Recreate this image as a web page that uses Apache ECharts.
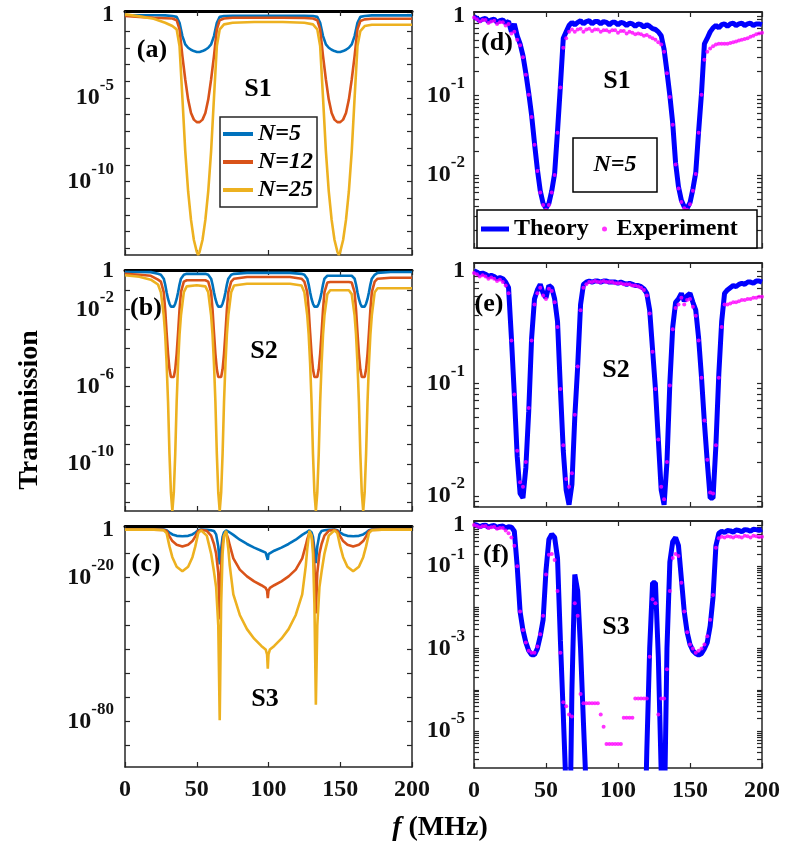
<!DOCTYPE html>
<html>
<head>
	<meta charset="UTF-8">
	<title>Transmission S1 S2 S3</title>
	<script src="https://cdn.jsdelivr.net/npm/echarts@6/dist/echarts.min.js"></script>
	<style>
		html,body{margin:0;padding:0;background:#fff;}
		#chart{width:788px;height:866px;}
	</style>
</head>
<body>
	<div id="chart"></div>
	<script type="text/javascript">
		// 所有纵坐标数据均为 log10(Transmission)
		// (a) S1, 左列
		var fA = [0,10,20,28, 33,36,38,40,42,44,46,48,50,51,52,54,56,58,60,62,64,66,69, 75,90,110,125,
			131,134,136,138,140,142,144,146,148,149,150,152,154,156,158,160,162,164,167, 172,185,200];
		var aN5 = [-0.05,-0.05,-0.05,-0.06,
			-0.1,-0.15,-0.5,-1.3,-1.8,-2.0,-2.12,-2.2,-2.25,-2.25,-2.25,-2.2,-2.12,-2.0,-1.8,-1.3,-0.5,-0.15,-0.1,
			-0.08,-0.08,-0.08,-0.08,
			-0.1,-0.15,-0.5,-1.3,-1.8,-2.0,-2.12,-2.2,-2.25,-2.25,-2.25,-2.2,-2.12,-2.0,-1.8,-1.3,-0.5,-0.15,-0.1,
			-0.06,-0.06,-0.06];
		var aN12 = [-0.1,-0.15,-0.2,-0.23,
			-0.25,-0.35,-0.9,-2.5,-3.9,-5.1,-5.9,-6.3,-6.45,-6.47,-6.45,-6.3,-5.9,-5.1,-3.9,-2.5,-0.9,-0.35,-0.25,
			-0.2,-0.2,-0.2,-0.22,
			-0.25,-0.35,-0.9,-2.5,-3.9,-5.1,-5.9,-6.3,-6.45,-6.47,-6.45,-6.3,-5.9,-5.1,-3.9,-2.5,-0.9,-0.4,-0.3,
			-0.26,-0.26,-0.26];
		var aN25 = [0,-0.12,-0.26,-0.5,
			-0.7,-0.9,-1.9,-5.0,-8.2,-10.6,-12.3,-13.5,-14.2,-14.4,-14.2,-13.5,-12.3,-10.6,-8.2,-5.0,-1.9,-0.9,-0.6,
			-0.5,-0.46,-0.46,-0.5,
			-0.6,-0.9,-1.9,-5.0,-8.2,-10.6,-12.3,-13.5,-14.2,-14.4,-14.2,-13.5,-12.3,-10.6,-8.2,-5.0,-1.9,-1.0,-0.7,
			-0.62,-0.62,-0.62];

		// (b) S2
		var fB = [0,10,18, 23,25,27,28,29,30,31,32,33,34,35,36,37,38,39,41,43, 50,
			56,58,60,61,62,63,64,65,66,67,68,69,70,71,72,74,76, 85,100,115,
			123,125,127,128,129,130,131,132,133,134,135,136,137,138,139,141,143, 150,
			156,158,160,161,162,163,164,165,166,167,168,169,170,171,172,174,176, 185,200];
		var bN5 = [-0.05,-0.05,-0.06,
			-0.15,-0.2,-0.4,-0.7,-1.1,-1.45,-1.7,-1.85,-1.9,-1.85,-1.7,-1.45,-1.1,-0.7,-0.4,-0.2,-0.15,
			-0.15,
			-0.15,-0.2,-0.4,-0.7,-1.1,-1.45,-1.7,-1.85,-1.9,-1.85,-1.7,-1.45,-1.1,-0.7,-0.4,-0.2,-0.15,
			-0.1,-0.1,-0.1,
			-0.15,-0.2,-0.4,-0.7,-1.1,-1.45,-1.7,-1.85,-1.9,-1.85,-1.7,-1.45,-1.1,-0.7,-0.4,-0.25,-0.25,
			-0.25,
			-0.25,-0.25,-0.4,-0.7,-1.1,-1.45,-1.7,-1.85,-1.9,-1.85,-1.7,-1.45,-1.1,-0.7,-0.4,-0.2,-0.1,
			-0.05,-0.05];
		var bN12 = [-0.15,-0.2,-0.25,
			-0.45,-0.55,-1.1,-2.0,-3.2,-4.3,-5.1,-5.5,-5.6,-5.5,-5.1,-4.3,-3.2,-2.0,-1.1,-0.55,-0.48,
			-0.48,
			-0.48,-0.55,-1.1,-2.0,-3.2,-4.3,-5.1,-5.5,-5.6,-5.5,-5.1,-4.3,-3.2,-2.0,-1.1,-0.55,-0.4,
			-0.31,-0.31,-0.31,
			-0.4,-0.55,-1.1,-2.0,-3.2,-4.3,-5.1,-5.5,-5.6,-5.5,-5.1,-4.3,-3.2,-2.0,-1.1,-0.6,-0.57,
			-0.57,
			-0.57,-0.6,-1.1,-2.0,-3.2,-4.3,-5.1,-5.5,-5.6,-5.5,-5.1,-4.3,-3.2,-2.0,-1.1,-0.55,-0.4,
			-0.35,-0.35];
		var bN25 = [-0.22,-0.3,-0.45,
			-0.7,-1.1,-2.3,-3.3,-4.8,-6.8,-9.5,-11.5,-12.45,-11.5,-9.5,-6.8,-4.8,-3.3,-2.3,-1.1,-0.8,
			-0.74,
			-0.8,-1.1,-2.3,-3.3,-4.8,-6.8,-9.5,-11.5,-12.45,-11.5,-9.5,-6.8,-4.8,-3.3,-2.3,-1.1,-0.75,
			-0.66,-0.66,-0.66,
			-0.75,-1.1,-2.3,-3.3,-4.8,-6.8,-9.5,-11.5,-12.45,-11.5,-9.5,-6.8,-4.8,-3.3,-2.3,-1.2,-1.0,
			-1.0,
			-1.0,-1.2,-2.3,-3.3,-4.8,-6.8,-9.5,-11.5,-12.45,-11.5,-9.5,-6.8,-4.8,-3.3,-2.3,-1.1,-0.9,
			-0.9,-0.9];

		// (c) S3
		var fC = [0,20,27,29,31,33,36,40,44,47,49,51,53,57,60,62,63.5,65,66,67,68,69,70.5,72,73,75.5,80,85,90,95,98,99,99.5,
			100,101,104,109,114,119,123.5,126,127,128.5,130,131,132,133,134,135.5,137,139,142,146,148,150,152,155,159,163,166,168,170,172,179,199,200];
		var cN5 = [0,0,0,-0.3,-1.2,-2.0,-2.6,-2.8,-2.6,-2.0,-1.2,-0.3,0,-0.1,-0.3,-0.6,-2,-7,-14.5,-8,-3,-1.2,-0.3,-0.8,-1.3,-2.2,-4.2,-6,-7.5,-8.8,-9.6,-10.2,-12.6,
			-10.2,-9.6,-8.8,-7.5,-6,-4.2,-2.2,-1.3,-0.8,-0.3,-1.2,-3,-8,-14,-7,-2,-0.6,-0.3,-0.1,0,-0.3,-1.2,-2.0,-2.6,-2.8,-2.6,-2.0,-1.2,-0.3,0,0,0,0];
		var cN12 = [0,0,-0.1,-0.6,-2.8,-4.8,-6.3,-7.0,-6.3,-4.8,-2.8,-0.6,-0.1,-0.5,-2.5,-6,-10,-18,-37.5,-15,-6,-2.5,-1.4,-4,-6.5,-12,-16.7,-19.5,-21.6,-23.2,-24.3,-25.5,-28.6,
			-25.5,-24.3,-23.2,-21.6,-19.5,-16.7,-12,-6.5,-4,-1.4,-2.5,-6,-15,-35,-18,-10,-6,-2.5,-0.5,-0.1,-0.6,-2.8,-4.8,-6.3,-7.0,-6.3,-4.8,-2.8,-0.6,-0.1,0,0,0];
		var cN25 = [0,0,-0.3,-1.5,-7,-11.5,-15.5,-17.4,-15.5,-11.5,-7,-1.5,-0.3,-2.5,-10,-17.5,-24,-40,-79.5,-31,-10,-2.5,-0.5,-8,-15,-27,-35.6,-41.5,-45.5,-48.5,-50,-52,-58,
			-52,-50,-48.5,-45.5,-41.5,-35.6,-27,-15,-8,-0.5,-2.5,-10,-31,-73,-40,-24,-17.5,-10,-2.5,-0.3,-1.5,-7,-11.5,-15.5,-17.4,-15.5,-11.5,-7,-1.5,-0.3,0,0,0];

		// 右列 (d)(e)(f) 频率网格, MHz
		var fR = [0,2,4,6,8,10,12,14,16,18,20,22,24,26,28,30,32,34,36,38,40,42,44,46,48,50,52,54,56,58,
			60,62,64,66,68,70,72,74,76,78,80,82,84,86,88,90,92,94,96,98,100,102,104,106,108,110,112,114,116,118,
			120,122,124,126,128,130,132,134,136,138,140,142,144,146,148,150,152,154,156,158,160,162,164,166,168,170,
			172,174,176,178,180,182,184,186,188,190,192,194,196,198,200];
		var dTheory = [-0.01,-0.03,-0.06,-0.04,-0.03,-0.07,-0.05,-0.04,-0.08,-0.06,
			-0.05,-0.09,-0.07,-0.2,-0.1,-0.25,-0.35,-0.5,-0.72,-0.97,
			-1.25,-1.6,-1.93,-2.2,-2.36,-2.42,-2.36,-2.2,-1.98,-1.45,
			-0.88,-0.28,-0.2,-0.12,-0.08,-0.11,-0.08,-0.06,-0.1,-0.07,
			-0.06,-0.1,-0.07,-0.07,-0.1,-0.07,-0.08,-0.11,-0.08,-0.08,
			-0.11,-0.08,-0.09,-0.12,-0.09,-0.1,-0.13,-0.1,-0.11,-0.14,
			-0.11,-0.13,-0.16,-0.17,-0.2,-0.25,-0.42,-0.7,-1.0,-1.35,
			-1.85,-2.15,-2.32,-2.4,-2.42,-2.35,-2.18,-1.97,-1.45,-0.97,
			-0.35,-0.28,-0.2,-0.15,-0.12,-0.15,-0.11,-0.1,-0.13,-0.1,
			-0.09,-0.12,-0.1,-0.09,-0.12,-0.1,-0.09,-0.12,-0.1,-0.1,
			-0.11];
		var dExp = [-0.02,-0.04,-0.07,-0.05,-0.05,-0.09,-0.07,-0.06,-0.1,-0.08,
			-0.08,-0.12,-0.1,-0.22,-0.2,-0.3,-0.37,-0.52,-0.74,-0.99,
			-1.27,-1.62,-1.95,-2.22,-2.38,-2.44,-2.38,-2.22,-2.0,-1.47,
			-0.9,-0.4,-0.28,-0.2,-0.17,-0.2,-0.17,-0.16,-0.2,-0.17,
			-0.16,-0.19,-0.17,-0.17,-0.2,-0.18,-0.18,-0.2,-0.18,-0.18,
			-0.21,-0.19,-0.19,-0.22,-0.2,-0.21,-0.23,-0.22,-0.23,-0.25,
			-0.24,-0.26,-0.28,-0.3,-0.33,-0.36,-0.45,-0.72,-1.02,-1.37,
			-1.87,-2.17,-2.34,-2.42,-2.44,-2.37,-2.2,-1.99,-1.47,-0.99,
			-0.55,-0.45,-0.41,-0.38,-0.36,-0.35,-0.35,-0.35,-0.35,-0.34,
			-0.33,-0.32,-0.31,-0.3,-0.29,-0.28,-0.26,-0.25,-0.23,-0.22,
			-0.21];
		var eTheory = [0,-0.01,-0.03,-0.02,-0.03,-0.05,-0.04,-0.05,-0.07,-0.06,
			-0.07,-0.1,-0.15,-0.6,-1.1,-1.65,-1.98,-2.02,-1.75,-1.25,
			-0.6,-0.25,-0.17,-0.12,-0.2,-0.24,-0.13,-0.15,-0.25,-0.45,
			-1.05,-1.6,-1.95,-2.08,-1.9,-1.3,-0.85,-0.3,-0.12,-0.1,
			-0.09,-0.1,-0.09,-0.09,-0.1,-0.09,-0.09,-0.1,-0.1,-0.1,
			-0.11,-0.1,-0.11,-0.12,-0.11,-0.12,-0.13,-0.13,-0.14,-0.16,
			-0.2,-0.35,-0.7,-1.05,-1.5,-1.95,-2.08,-1.7,-1.0,-0.5,
			-0.28,-0.25,-0.2,-0.27,-0.22,-0.2,-0.28,-0.35,-0.6,-0.95,
			-1.35,-1.7,-2.02,-2.02,-1.55,-0.92,-0.45,-0.2,-0.17,-0.15,
			-0.13,-0.14,-0.12,-0.11,-0.12,-0.1,-0.1,-0.11,-0.09,-0.09,
			-0.1];
		var eExp = [-0.02,-0.03,-0.05,-0.04,-0.05,-0.07,-0.06,-0.07,-0.09,-0.08,
			-0.1,-0.13,-0.2,-0.62,-1.1,-1.6,-1.88,-1.92,-1.7,-1.22,
			-0.62,-0.3,-0.2,-0.15,-0.22,-0.25,-0.16,-0.18,-0.28,-0.5,
			-1.05,-1.55,-1.85,-1.92,-1.8,-1.28,-0.85,-0.35,-0.15,-0.12,
			-0.1,-0.1,-0.09,-0.1,-0.1,-0.09,-0.1,-0.1,-0.1,-0.11,
			-0.11,-0.11,-0.12,-0.12,-0.12,-0.13,-0.13,-0.14,-0.15,-0.17,
			-0.22,-0.38,-0.72,-1.05,-1.5,-1.92,-2.03,-1.7,-1.02,-0.52,
			-0.33,-0.3,-0.24,-0.3,-0.26,-0.25,-0.32,-0.4,-0.62,-0.95,
			-1.33,-1.68,-1.97,-1.98,-1.55,-0.95,-0.5,-0.3,-0.3,-0.29,
			-0.28,-0.28,-0.27,-0.26,-0.26,-0.25,-0.25,-0.24,-0.24,-0.23,
			-0.23];
		var fTheory = [0.02,0,-0.04,-0.01,0,-0.05,-0.02,-0.01,-0.06,-0.03,
			-0.02,-0.07,-0.04,-0.05,-0.15,-1.0,-2.1,-2.55,-2.85,-3.05,
			-3.15,-3.15,-3.0,-2.7,-2.3,-1.1,-0.35,-0.22,-0.3,-0.8,
			-2.8,-4.6,-6.5,-9,-4.0,-1.2,-1.6,-3.0,-4.8,-6.5,
			-8.5,-10,-11,-12,-12,-12,-12,-12,-12,-12,
			-12,-12,-12,-12,-12,-12,-12,-11,-10,-8.5,
			-5.5,-3.0,-1.4,-1.4,-3.2,-6,-7.5,-3.0,-0.9,-0.4,
			-0.3,-0.5,-1.3,-2.1,-2.6,-2.9,-3.05,-3.12,-3.16,-3.12,
			-3.0,-2.85,-2.45,-1.75,-0.5,-0.2,-0.15,-0.18,-0.13,-0.14,
			-0.17,-0.12,-0.13,-0.16,-0.11,-0.12,-0.15,-0.1,-0.11,-0.13,
			-0.1];
		var fExp = [0,-0.02,-0.05,-0.03,-0.02,-0.07,-0.05,-0.04,-0.09,-0.07,
			-0.07,-0.13,-0.2,-0.3,-0.5,-1.0,-2.1,-2.55,-2.85,-3.05,
			-3.1,-3.1,-2.95,-2.65,-2.2,-1.2,-0.72,-0.7,-0.85,-1.6,
			-3.1,-4.3,-4.4,-4.6,-4.65,-1.9,-2.2,-4.1,-4.33,-4.33,
			-4.33,-4.33,-4.33,-4.33,-4.6,-4.9,-5.32,-5.32,-5.32,-5.32,
			-5.32,-5.32,-4.68,-4.68,-4.68,-4.68,-4.21,-4.21,-4.21,-4.21,
			-4.21,-3.2,-1.8,-1.9,-4.6,-4.21,-4.21,-3.5,-1.6,-0.8,
			-0.7,-0.75,-1.4,-2.1,-2.6,-2.9,-3.0,-3.1,-3.05,-3.0,
			-2.9,-2.7,-2.3,-1.7,-0.55,-0.32,-0.28,-0.3,-0.27,-0.28,
			-0.3,-0.27,-0.28,-0.3,-0.26,-0.27,-0.3,-0.26,-0.27,-0.29,
			-0.28];

		// 刻度标签 (10 的指数)
		var xTickLabels = [0,50,100,150,200];
		var yLabA = [0,-5,-10], yLabB = [0,-2,-6,-10], yLabC = [0,-20,-80];
		var yLabD = [0,-1,-2], yLabE = [0,-1,-2], yLabF = [0,-1,-3,-5];

		var FONT = '"Liberation Serif","Times New Roman",serif';
		var C5 = '#0072BD', C12 = '#D95319', C25 = '#EDB120';
		var AX = '#262626';

		function zip(xs, ys){
			var out = [];
			for(var i=0;i<xs.length;i++){
				out.push([xs[i], ys[i]]);
			}
			return out;
		}
		//线性间隔刻度
		function stepTicks(lo, hi, step){
			var t = [];
			for(var v=0; v>=lo; v-=step){
				if(v<=hi) t.push(v);
			}
			return t;
		}
		//对数次刻度
		function logTicks(lo, hi){
			var t = [];
			for(var n=0; n>=Math.floor(lo); n--){
				for(var k=1;k<=9;k++){
					var v = n + Math.log10(k);
					if(v>=lo && v<=hi) t.push(v);
				}
			}
			return t;
		}
		function expLabel(v){
			var n = Math.round(v);
			return n === 0 ? '1' : '10{s|' + n + '}';
		}

		var grids = [
			{left:125, top:11, width:287, height:244},
			{left:125, top:270, width:287, height:241},
			{left:125, top:526, width:287, height:241},
			{left:474, top:12, width:288, height:236},
			{left:474, top:263, width:288, height:244},
			{left:474, top:521, width:288, height:247}
		];
		var yRange = [[-14.4,0.2],[-12.45,0.05],[-99,1.5],[-2.92,0.05],[-2.1,0.07],[-5.9,0.1]];
		var yLabs = [yLabA, yLabB, yLabC, yLabD, yLabE, yLabF];
		var yTicks = [
			stepTicks(-14.4,0.2,1), stepTicks(-12.45,0.05,1), stepTicks(-99,1.5,10),
			logTicks(-2.92,0.05), logTicks(-2.1,0.07), logTicks(-5.9,0.1)
		];

		var xAxes = [], yAxes = [];
		for(var i=0;i<6;i++){
			var leftCol = i < 3;
			var showX = (i===2 || i===5);
			var tick = {inside:true, length:5, lineStyle:{color:AX, width:1.2}};
			xAxes.push({
				type:'value', gridIndex:i, position:'bottom', min:0, max:200, interval:50,
				axisLine:{onZero:false, lineStyle:{color:AX, width:1.5}},
				axisTick:tick,
				axisLabel:{show:showX, customValues:xTickLabels, margin:11, color:'#111', fontFamily:FONT, fontWeight:'bold', fontSize:24},
				splitLine:{show:false}
			});
			xAxes.push({
				type:'value', gridIndex:i, position:'top', min:0, max:200, interval:50,
				axisLine:{onZero:false, lineStyle:{color:leftCol ? '#000' : AX, width:leftCol ? 3 : 1.8}},
				axisTick:tick,
				axisLabel:{show:false},
				splitLine:{show:false}
			});
			var ytick = {inside:true, length:5, customValues:yTicks[i], lineStyle:{color:AX, width:1.2}};
			yAxes.push({
				type:'value', gridIndex:i, position:'left', min:yRange[i][0], max:yRange[i][1],
				axisLine:{onZero:false, lineStyle:{color:AX, width:1.5}},
				axisTick:ytick,
				axisLabel:{
					customValues:yLabs[i], formatter:expLabel, margin:leftCol ? 11 : 9,
					color:'#111', fontFamily:FONT, fontWeight:'bold', fontSize:24,
					rich:{s:{fontSize:17, fontFamily:FONT, fontWeight:'bold', color:'#111', padding:[0,0,24,0]}}
				},
				splitLine:{show:false}
			});
			yAxes.push({
				type:'value', gridIndex:i, position:'right', min:yRange[i][0], max:yRange[i][1],
				axisLine:{onZero:false, lineStyle:{color:AX, width:1.5}},
				axisTick:ytick,
				axisLabel:{show:false},
				splitLine:{show:false}
			});
		}

		function lineS(name, gi, xs, ys, color, w){
			return {
				name:name, type:'line', xAxisIndex:gi*2, yAxisIndex:gi*2,
				data:zip(xs, ys), symbol:'none', showSymbol:false, clip:true, silent:true,
				lineStyle:{color:color, width:w}, itemStyle:{color:color}, z:2
			};
		}
		function dotS(name, gi, xs, ys){
			return {
				name:name, type:'scatter', xAxisIndex:gi*2, yAxisIndex:gi*2,
				data:zip(xs, ys), symbol:'circle', symbolSize:4, clip:true, silent:true,
				itemStyle:{color:'#ff00ff'}, z:3
			};
		}

		var series = [
			lineS('N=5', 0, fA, aN5, C5, 2.6), lineS('N=12', 0, fA, aN12, C12, 2.6), lineS('N=25', 0, fA, aN25, C25, 2.6),
			lineS('N=5', 1, fB, bN5, C5, 2.6), lineS('N=12', 1, fB, bN12, C12, 2.6), lineS('N=25', 1, fB, bN25, C25, 2.6),
			lineS('N=5', 2, fC, cN5, C5, 2.6), lineS('N=12', 2, fC, cN12, C12, 2.6), lineS('N=25', 2, fC, cN25, C25, 2.6),
			lineS('Theory', 3, fR, dTheory, '#0000ff', 5), dotS('Experiment', 3, fR, dExp),
			lineS('Theory', 4, fR, eTheory, '#0000ff', 5), dotS('Experiment', 4, fR, eExp),
			lineS('Theory', 5, fR, fTheory, '#0000ff', 5), dotS('Experiment', 5, fR, fExp)
		];

		function txt(s, x, y, size, italic){
			return {
				type:'text', x:x, y:y, z:20,
				style:{text:s, align:'center', verticalAlign:'middle', textAlign:'center', textVerticalAlign:'middle',
					fill:'#000', font:(italic ? 'italic ' : '') + 'bold ' + size + 'px ' + FONT}
			};
		}

		var graphics = [
			txt('(a)', 152, 50, 26), txt('S1', 258, 89, 26),
			txt('(b)', 146, 308, 26), txt('S2', 264, 351, 26),
			txt('(c)', 146, 564, 26), txt('S3', 265, 699, 26),
			txt('(d)', 497, 43, 26), txt('S1', 617, 81, 26),
			txt('(e)', 489, 304, 26), txt('S2', 616, 370, 26),
			txt('(f)', 496, 555, 26), txt('S3', 616, 627, 26),
			{type:'rect', z:5, shape:{x:573, y:138, width:84, height:54}, style:{fill:'#fff', stroke:'#000', lineWidth:1.5}},
			txt('N=5', 615, 165, 24, true),
			{type:'rect', z:5, shape:{x:477, y:210, width:280, height:38}, style:{fill:'#fff', stroke:'#000', lineWidth:1.5}},
			{type:'text', x:30, y:410, rotation:Math.PI/2, z:20,
				style:{text:'Transmission', align:'center', verticalAlign:'middle', textAlign:'center', textVerticalAlign:'middle',
					fill:'#000', font:'bold 28px ' + FONT}},
			{type:'text', x:440, y:828, z:20,
				style:{text:'{i|f} (MHz)', align:'center', verticalAlign:'middle', textAlign:'center', textVerticalAlign:'middle',
					fill:'#000', font:'bold 28px ' + FONT,
					rich:{i:{font:'italic bold 28px ' + FONT, fill:'#000'}}}}
		];

		var legTxt = {fontFamily:FONT, fontWeight:'bold', fontSize:24, color:'#000'};
		var option = {
			animation:false,
			backgroundColor:'#fff',
			grid:grids,
			xAxis:xAxes,
			yAxis:yAxes,
			legend:[
				{data:['N=5','N=12','N=25'], orient:'vertical', left:220, top:117, z:10, icon:'rect',
					itemWidth:30, itemHeight:4, itemGap:4, padding:[5,4,5,3], selectedMode:false,
					borderColor:AX, borderWidth:1.5, backgroundColor:'#fff',
					textStyle:{fontFamily:FONT, fontWeight:'bold', fontStyle:'italic', fontSize:24, color:'#000'}},
				{data:['Theory'], left:481, top:217, z:10, icon:'rect', itemWidth:28, itemHeight:5, padding:0,
					selectedMode:false, textStyle:legTxt},
				{data:['Experiment'], left:602, top:217, z:10, itemWidth:14, itemHeight:5, padding:0,
					selectedMode:false, textStyle:legTxt}
			],
			graphic:{elements:graphics},
			series:series
		};

		var chart = echarts.init(document.getElementById('chart'));
		chart.setOption(option);
	</script>
</body>
</html>
